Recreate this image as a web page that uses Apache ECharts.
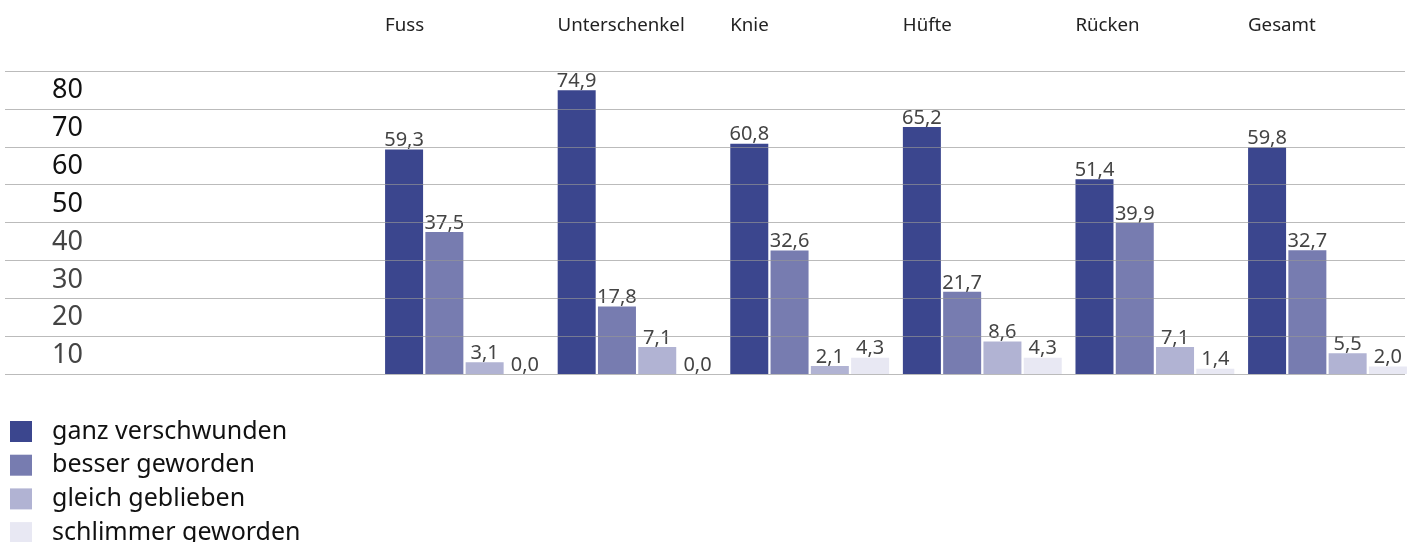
<!DOCTYPE html>
<html>
<head>
<meta charset="utf-8">
<script src="https://cdn.jsdelivr.net/npm/echarts@6/dist/echarts.min.js"></script>
<style>html,body{margin:0;padding:0;background:#fff}#c{width:1420px;height:542px}</style>
</head>
<body>
<div id="c"></div>
<script>
const categories = ['Fuss', 'Unterschenkel', 'Knie', 'Hüfte', 'Rücken', 'Gesamt'];
const seriesNames = ['ganz verschwunden', 'besser geworden', 'gleich geblieben', 'schlimmer geworden'];
const ganzVerschwunden = [59.3, 74.9, 60.8, 65.2, 51.4, 59.8];
const besserGeworden = [37.5, 17.8, 32.6, 21.7, 39.9, 32.7];
const gleichGeblieben = [3.1, 7.1, 2.1, 8.6, 7.1, 5.5];
const schlimmerGeworden = [0.0, 0.0, 4.3, 4.3, 1.4, 2.0];
const colors = ['#3b468e', '#777cb0', '#b1b3d3', '#e8e8f3'];
const yMin = 0, yMax = 80, yInterval = 10;

const FONT = '"Noto Sans", "Open Sans", sans-serif';
const allData = [ganzVerschwunden, besserGeworden, gleichGeblieben, schlimmerGeworden];

const chart = echarts.init(document.getElementById('c'), null, {renderer: 'canvas'});
chart.setOption({
  animation: false,
  color: colors,
  textStyle: {fontFamily: FONT},
  grid: [
    {left: 5, right: 15, top: 71, bottom: 168, containLabel: false},
    {left: 378.2, right: 6.2, top: 71, bottom: 168, containLabel: false}
  ],
  legend: {
    orient: 'vertical',
    left: 5,
    top: 414,
    height: 300,
    itemWidth: 22,
    itemHeight: 21,
    itemGap: 8.7,
    icon: 'rect',
    data: seriesNames,
    textStyle: {fontSize: 25, color: '#111', fontFamily: FONT, padding: [0, 0, 0, 15]}
  },
  xAxis: [
    {gridIndex: 0, type: 'value', min: 0, max: 1, show: false},
    {
      gridIndex: 1, type: 'category', position: 'top', data: categories,
      axisLine: {show: false}, axisTick: {show: false}, splitLine: {show: false},
      axisLabel: {
        margin: 36,
        formatter: v => '{a|' + v + '}',
        rich: {a: {width: 159, align: 'left', fontSize: 18.7, color: '#222', fontFamily: FONT}}
      }
    }
  ],
  yAxis: [
    {
      gridIndex: 0, type: 'value', min: yMin, max: yMax, interval: yInterval, z: 10,
      axisLine: {show: false}, axisTick: {show: false},
      splitLine: {show: true, lineStyle: {color: 'rgba(150,150,150,0.65)', width: 1}},
      axisLabel: {
        showMinLabel: false,
        align: 'left', verticalAlign: 'top', margin: -47,
        padding: [6, 0, 0, 0],
        fontSize: 27, fontFamily: FONT,
        color: v => (v >= 50 ? '#111' : '#444')
      }
    },
    {gridIndex: 1, type: 'value', min: yMin, max: yMax, interval: yInterval, show: false, splitLine: {show: false}}
  ],
  series: seriesNames.map((name, i) => ({
    name: name,
    type: 'bar',
    xAxisIndex: 1,
    yAxisIndex: 1,
    barWidth: 38,
    barGap: '6%',
    data: allData[i],
    itemStyle: {color: colors[i]},
    label: {
      show: true, position: 'top', distance: -1,
      fontSize: 20, color: '#444', fontFamily: FONT,
      formatter: p => p.value.toFixed(1).replace('.', ',')
    }
  }))
});
</script>
</body>
</html>
